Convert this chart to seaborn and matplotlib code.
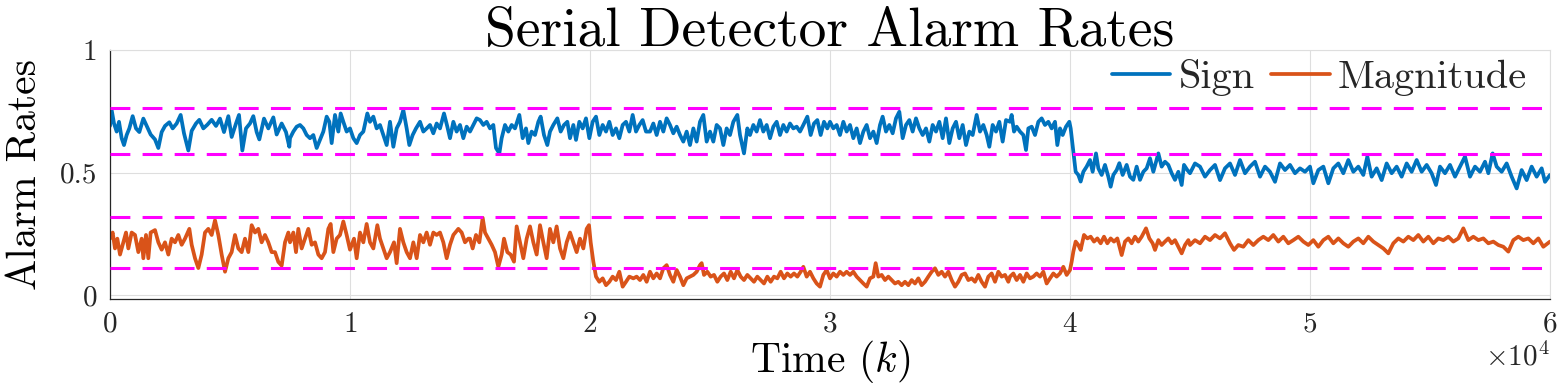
import numpy as np
import pandas as pd
import matplotlib
matplotlib.use("Agg")
import matplotlib.pyplot as plt
from matplotlib.ticker import ScalarFormatter
import seaborn as sns

# ---------------- data ----------------
sign_t = [
    0, 69, 167, 278, 375, 486, 583, 694, 806, 944,
    1083, 1222, 1389, 1528, 1694, 1875, 2014, 2153, 2292, 2472,
    2611, 2778, 2944, 3083, 3264, 3403, 3583, 3722, 3889, 4056,
    4236, 4417, 4583, 4750, 4931, 5069, 5250, 5375, 5514, 5667,
    5833, 5972, 6111, 6222, 6417, 6597, 6806, 6944, 7153, 7333,
    7472,
    7500, 7639, 7778, 7917, 8056, 8194, 8333, 8472, 8611, 8750,
    8889, 9028, 9139, 9236, 9375, 9514, 9611, 9722, 9861, 10000,
    10139, 10278, 10417, 10556, 10722, 10833, 10972, 11111, 11250, 11389,
    11528, 11667, 11806, 11944, 12083, 12222, 12361, 12472, 12611, 12750,
    12917, 13056, 13194, 13333, 13472, 13611, 13750, 13917, 14056, 14167,
    14306, 14444, 14583, 14722, 14861,
    15000, 15139, 15278, 15417, 15556, 15694, 15833, 15972, 16083, 16222,
    16319, 16458, 16597, 16736, 16875, 17056, 17194, 17333, 17431, 17569,
    17708, 17847, 17944, 18083, 18222, 18333, 18472, 18639, 18778, 18917,
    19056, 19167, 19306, 19417, 19556, 19694, 19833, 19972, 20111, 20250,
    20389, 20528, 20667, 20806, 20944, 21083, 21222, 21361, 21500, 21639,
    21778, 21917, 22056, 22194, 22333,
    22500, 22639, 22778, 22917, 23056, 23194, 23333, 23472, 23611, 23750,
    23889, 24028, 24167, 24306, 24444, 24583, 24722, 24861, 25000, 25139,
    25278, 25417, 25556, 25694, 25833, 25972, 26139, 26250, 26417, 26556,
    26667, 26806, 26944, 27083, 27222, 27361, 27500, 27639, 27778, 27917,
    28056, 28194, 28333, 28472, 28611, 28750, 28889, 29056, 29194, 29333,
    29472, 29611, 29750, 29889,
    30000, 30139, 30278, 30417, 30556, 30694, 30833, 30972, 31111, 31250,
    31389, 31528, 31667, 31806, 31944, 32083, 32194, 32333, 32472, 32611,
    32750, 32889, 33028, 33167, 33306, 33444, 33583, 33722, 33861, 34000,
    34139, 34278, 34417, 34556, 34694, 34833, 34972, 35111, 35250, 35389,
    35528, 35667, 35806, 35944, 36111, 36250, 36389, 36528, 36639, 36778,
    36917, 37056, 37194, 37333,
    37500, 37569, 37667, 37778, 37917, 38056, 38167, 38264, 38403, 38542,
    38681, 38819, 38958, 39097, 39236, 39375, 39472, 39583, 39694, 39833,
    39972, 40028, 40139, 40236, 40347, 40444, 40556, 40694, 40833, 40944,
    41083, 41181, 41319, 41458, 41597, 41694, 41806, 41944, 42056, 42194,
    42361, 42500, 42639, 42778, 42917, 43056, 43194, 43333, 43472, 43681,
    43819, 43958, 44097, 44236, 44375, 44514, 44653, 44750, 44889,
    45000, 45208, 45417, 45625, 45833, 46042, 46250, 46458, 46667, 46875,
    47083, 47292, 47500, 47708, 47917, 48125, 48333, 48542, 48750, 48958,
    49167, 49375, 49583, 49792, 50000, 50139, 50347, 50556, 50764, 50972,
    51181, 51389, 51597, 51806, 52014, 52222, 52389, 52569, 52778, 52986,
    53194, 53403, 53611, 53819, 54028, 54236, 54444, 54653, 54861, 55069,
    55250, 55417, 55625, 55833, 56042, 56250, 56458, 56667, 56875, 57083,
    57292, 57431, 57611, 57778, 57986, 58194, 58403, 58611, 58819, 59028,
    59236, 59444, 59653, 59792, 60000,
]
sign_v = [
    0.69, 0.755, 0.70, 0.667, 0.707, 0.64, 0.612, 0.653, 0.68, 0.73,
    0.68, 0.665, 0.72, 0.69, 0.655, 0.635, 0.60, 0.665, 0.69, 0.705,
    0.68, 0.70, 0.735, 0.66, 0.59, 0.67, 0.70, 0.715, 0.68, 0.695,
    0.715, 0.69, 0.72, 0.665, 0.73, 0.645, 0.70, 0.735, 0.59, 0.68,
    0.70, 0.73, 0.665, 0.635, 0.72, 0.68, 0.725, 0.655, 0.70, 0.665,
    0.605,
    0.64, 0.667, 0.687, 0.694, 0.68, 0.653, 0.64, 0.653, 0.60, 0.633,
    0.667, 0.728, 0.707, 0.62, 0.735, 0.667, 0.741, 0.707, 0.667, 0.68,
    0.64, 0.62, 0.653, 0.667, 0.741, 0.707, 0.728, 0.68, 0.694, 0.653,
    0.612, 0.707, 0.605, 0.68, 0.707, 0.755, 0.68, 0.612, 0.653, 0.68,
    0.707, 0.667, 0.68, 0.694, 0.66, 0.70, 0.68, 0.741, 0.687, 0.64,
    0.707, 0.667, 0.694, 0.64, 0.687,
    0.667, 0.694, 0.721, 0.714, 0.694, 0.707, 0.68, 0.694, 0.60, 0.578,
    0.64, 0.694, 0.667, 0.694, 0.68, 0.735, 0.64, 0.68, 0.62, 0.667,
    0.653, 0.707, 0.728, 0.653, 0.612, 0.667, 0.694, 0.721, 0.667, 0.694,
    0.707, 0.64, 0.694, 0.633, 0.707, 0.68, 0.721, 0.64, 0.707, 0.728,
    0.653, 0.694, 0.667, 0.707, 0.653, 0.68, 0.64, 0.694, 0.707, 0.667,
    0.735, 0.667, 0.694, 0.714, 0.667,
    0.667, 0.70, 0.653, 0.707, 0.667, 0.721, 0.694, 0.66, 0.687, 0.653,
    0.626, 0.667, 0.612, 0.68, 0.626, 0.707, 0.735, 0.626, 0.667, 0.626,
    0.694, 0.68, 0.612, 0.68, 0.653, 0.707, 0.735, 0.653, 0.578, 0.68,
    0.653, 0.694, 0.667, 0.714, 0.667, 0.694, 0.64, 0.687, 0.707, 0.653,
    0.694, 0.667, 0.70, 0.68, 0.687, 0.667, 0.694, 0.728, 0.653, 0.70,
    0.714, 0.653, 0.707, 0.68,
    0.707, 0.68, 0.694, 0.653, 0.707, 0.667, 0.694, 0.64, 0.68, 0.62,
    0.667, 0.694, 0.64, 0.667, 0.62, 0.694, 0.728, 0.667, 0.694, 0.66,
    0.721, 0.748, 0.64, 0.694, 0.714, 0.667, 0.721, 0.68, 0.653, 0.68,
    0.626, 0.694, 0.667, 0.707, 0.64, 0.721, 0.62, 0.68, 0.707, 0.64,
    0.694, 0.612, 0.667, 0.653, 0.735, 0.667, 0.694, 0.653, 0.605, 0.694,
    0.667, 0.707, 0.626, 0.714,
    0.707, 0.735, 0.667, 0.687, 0.667, 0.653, 0.592, 0.68, 0.687, 0.653,
    0.707, 0.721, 0.694, 0.707, 0.68, 0.707, 0.612, 0.68, 0.653, 0.687,
    0.707, 0.68, 0.585, 0.503, 0.49, 0.463, 0.503, 0.524, 0.551, 0.503,
    0.578, 0.517, 0.49, 0.531, 0.483, 0.442, 0.49, 0.51, 0.538, 0.49,
    0.531, 0.483, 0.47, 0.524, 0.47, 0.503, 0.517, 0.558, 0.503, 0.578,
    0.524, 0.544, 0.531, 0.497, 0.47, 0.503, 0.449, 0.531, 0.51,
    0.497, 0.537, 0.524, 0.483, 0.51, 0.531, 0.469, 0.517, 0.537, 0.49,
    0.551, 0.497, 0.524, 0.544, 0.483, 0.524, 0.503, 0.462, 0.537, 0.51,
    0.531, 0.497, 0.517, 0.503, 0.524, 0.456, 0.51, 0.524, 0.456, 0.517,
    0.537, 0.497, 0.551, 0.503, 0.524, 0.49, 0.565, 0.483, 0.517, 0.469,
    0.537, 0.497, 0.524, 0.483, 0.537, 0.503, 0.551, 0.503, 0.531, 0.497,
    0.449, 0.524, 0.497, 0.531, 0.483, 0.524, 0.565, 0.483, 0.524, 0.503,
    0.544, 0.497, 0.578, 0.524, 0.503, 0.537, 0.483, 0.435, 0.51, 0.469,
    0.524, 0.483, 0.517, 0.462, 0.49,
]

mag_t = [
    0, 111, 208, 306, 417, 556, 667, 764, 903, 1042,
    1181, 1319, 1389, 1500, 1597, 1694, 1875, 2014, 2153, 2292,
    2431, 2569, 2708, 2847, 2986, 3125, 3306, 3403, 3542, 3681,
    3819, 3958, 4097, 4236, 4375, 4514, 4653, 4792, 4931, 5069,
    5208, 5347, 5486, 5625, 5764, 5903, 6042, 6181, 6319, 6458,
    6597, 6736, 6875, 7014, 7153, 7292, 7431,
    7500, 7639, 7750, 7847, 7986, 8125, 8264, 8403, 8542, 8681,
    8819, 8958, 9097, 9194, 9306, 9444, 9583, 9722, 9861, 10000,
    10167, 10278, 10417, 10556, 10694, 10833, 10972, 11139, 11250, 11389,
    11528, 11667, 11833, 11944, 12083, 12222, 12361, 12500, 12639, 12778,
    12917, 13056, 13194, 13333, 13472, 13611, 13750, 13889, 14028, 14167,
    14306, 14514, 14653, 14792, 14931,
    15000, 15111, 15250, 15389, 15528, 15625, 15764, 15903, 16042, 16181,
    16319, 16417, 16556, 16694, 16833, 16944, 17083, 17222, 17361, 17500,
    17639, 17778, 17917, 18056, 18194, 18333, 18472, 18611, 18750, 18889,
    19028, 19167, 19306, 19444, 19583, 19722, 19861, 19958, 20028, 20139,
    20250, 20389, 20528, 20667, 20806, 20944, 21083, 21222, 21361, 21500,
    21639, 21806, 21944, 22083, 22222, 22361,
    22500, 22639, 22778, 22917, 23056, 23194, 23333, 23472, 23611, 23750,
    23889, 24028, 24167, 24306, 24444, 24583, 24653, 24750, 24889, 25028,
    25167, 25306, 25444, 25583, 25722, 25861, 26000, 26139, 26278, 26417,
    26556, 26694, 26833, 26972, 27111, 27250, 27389, 27528, 27667, 27806,
    27944, 28083, 28222, 28361, 28500, 28639, 28778, 28889, 29028, 29167,
    29306, 29444, 29583, 29722, 29861,
    30000, 30139, 30278, 30417, 30556, 30694, 30833, 30972, 31111, 31250,
    31389, 31528, 31667, 31806, 31903, 32014, 32153, 32292, 32431, 32569,
    32708, 32847, 32986, 33125, 33264, 33403, 33542, 33681, 33819, 33958,
    34097, 34236, 34375, 34514, 34653, 34792, 34931, 35069, 35208, 35347,
    35486, 35625, 35764, 35903, 36042, 36181, 36319, 36458, 36597, 36736,
    36875, 37014, 37153, 37292, 37431,
    37500, 37639, 37778, 37917, 38056, 38194, 38333, 38472, 38611, 38750,
    38889, 39028, 39167, 39306, 39444, 39583, 39722, 39861, 40000, 40069,
    40139, 40236, 40347, 40444, 40583, 40722, 40861, 41000, 41139, 41278,
    41417, 41556, 41694, 41833, 41972, 42153, 42292, 42431, 42569, 42708,
    42847, 42986, 43167, 43306, 43444, 43542, 43681, 43819, 43958, 44097,
    44236, 44375, 44514, 44653, 44792, 44931,
    45000, 45208, 45417, 45625, 45833, 46042, 46250, 46458, 46667, 46833,
    47014, 47222, 47431, 47639, 47847, 48056, 48264, 48472, 48681, 48889,
    49097, 49306, 49514, 49722, 49931, 50139, 50347, 50556, 50764, 50972,
    51181, 51389, 51597, 51806, 52014, 52222, 52431, 52639, 52847, 53056,
    53264, 53472, 53681, 53889, 54097, 54306, 54514, 54722, 54931, 55139,
    55347, 55556, 55764, 55972, 56181, 56389, 56597, 56806, 57014, 57222,
    57431, 57639, 57847, 58056, 58264, 58472, 58681, 58889, 59097, 59306,
    59514, 59722, 60000,
]
mag_v = [
    0.23, 0.255, 0.19, 0.23, 0.165, 0.215, 0.255, 0.19, 0.255, 0.245,
    0.175, 0.23, 0.15, 0.245, 0.15, 0.255, 0.265, 0.215, 0.185, 0.215,
    0.165, 0.23, 0.215, 0.245, 0.205, 0.23, 0.27, 0.205, 0.15, 0.11,
    0.165, 0.255, 0.27, 0.245, 0.305, 0.245, 0.165, 0.095, 0.15, 0.175,
    0.245, 0.19, 0.175, 0.23, 0.175, 0.285, 0.255, 0.27, 0.215, 0.245,
    0.215, 0.175, 0.175, 0.135, 0.12, 0.215, 0.255,
    0.215, 0.255, 0.175, 0.27, 0.19, 0.23, 0.27, 0.205, 0.215, 0.165,
    0.15, 0.175, 0.27, 0.29, 0.175, 0.23, 0.245, 0.30, 0.245, 0.185,
    0.23, 0.15, 0.255, 0.215, 0.29, 0.215, 0.19, 0.285, 0.23, 0.19,
    0.15, 0.175, 0.215, 0.13, 0.27, 0.215, 0.175, 0.15, 0.215, 0.15,
    0.245, 0.215, 0.255, 0.205, 0.255, 0.245, 0.255, 0.215, 0.15, 0.205,
    0.245, 0.27, 0.255, 0.215, 0.23,
    0.23, 0.19, 0.245, 0.215, 0.315, 0.255, 0.23, 0.205, 0.175, 0.115,
    0.165, 0.23, 0.175, 0.165, 0.136, 0.28, 0.215, 0.15, 0.23, 0.28,
    0.215, 0.165, 0.285, 0.215, 0.15, 0.27, 0.215, 0.28, 0.19, 0.15,
    0.215, 0.255, 0.215, 0.175, 0.23, 0.19, 0.27, 0.285, 0.215, 0.136,
    0.075, 0.054, 0.068, 0.04, 0.054, 0.075, 0.061, 0.095, 0.034, 0.054,
    0.075, 0.068, 0.075, 0.061, 0.082, 0.054,
    0.095, 0.068, 0.088, 0.068, 0.109, 0.122, 0.082, 0.054, 0.102, 0.075,
    0.04, 0.068, 0.075, 0.082, 0.095, 0.122, 0.13, 0.082, 0.095, 0.075,
    0.082, 0.054, 0.075, 0.088, 0.061, 0.095, 0.068, 0.102, 0.075, 0.061,
    0.082, 0.068, 0.054, 0.075, 0.061, 0.047, 0.075, 0.054, 0.075, 0.068,
    0.095, 0.068, 0.088, 0.075, 0.088, 0.075, 0.095, 0.115, 0.075, 0.095,
    0.068, 0.047, 0.034, 0.082, 0.102,
    0.068, 0.088, 0.075, 0.095, 0.082, 0.095, 0.082, 0.095, 0.075, 0.061,
    0.047, 0.034, 0.068, 0.075, 0.13, 0.075, 0.082, 0.061, 0.075, 0.061,
    0.047, 0.054, 0.04, 0.054, 0.04, 0.061, 0.047, 0.068, 0.04, 0.054,
    0.075, 0.095, 0.109, 0.082, 0.095, 0.075, 0.095, 0.061, 0.034, 0.054,
    0.082, 0.088, 0.061, 0.068, 0.054, 0.082, 0.054, 0.034, 0.075, 0.088,
    0.054, 0.095, 0.075, 0.082, 0.054,
    0.075, 0.088, 0.061, 0.082, 0.054, 0.088, 0.068, 0.075, 0.088, 0.075,
    0.095, 0.047, 0.068, 0.088, 0.075, 0.088, 0.115, 0.082, 0.102, 0.136,
    0.177, 0.218, 0.204, 0.184, 0.245, 0.231, 0.238, 0.218, 0.231, 0.211,
    0.238, 0.211, 0.231, 0.218, 0.231, 0.163, 0.218, 0.231, 0.211, 0.238,
    0.218, 0.238, 0.272, 0.231, 0.211, 0.184, 0.224, 0.204, 0.218, 0.231,
    0.211, 0.224, 0.197, 0.17, 0.204, 0.224,
    0.204, 0.224, 0.211, 0.238, 0.224, 0.245, 0.231, 0.252, 0.211, 0.184,
    0.204, 0.197, 0.224, 0.204, 0.224, 0.238, 0.224, 0.245, 0.218, 0.238,
    0.211, 0.224, 0.238, 0.218, 0.204, 0.224, 0.197, 0.224, 0.238, 0.211,
    0.231, 0.211, 0.197, 0.218, 0.231, 0.211, 0.238, 0.218, 0.204, 0.19,
    0.17, 0.211, 0.231, 0.218, 0.238, 0.224, 0.245, 0.218, 0.238, 0.211,
    0.231, 0.224, 0.238, 0.218, 0.231, 0.272, 0.224, 0.238, 0.224, 0.231,
    0.211, 0.218, 0.204, 0.197, 0.177, 0.224, 0.238, 0.224, 0.231, 0.211,
    0.231, 0.197, 0.218,
]

bounds = [0.764, 0.574, 0.318, 0.111]          # magenta dashed limits
series_names = ["Sign", "Magnitude"]
xtick_vals = [0, 10000, 20000, 30000, 40000, 50000, 60000]
ytick_vals = [0, 0.5, 1]
ytick_labels = ["0", "0.5", "1"]
title = "Serial Detector Alarm Rates"
xlabel = "Time ($k$)"
ylabel = "Alarm Rates"

n1 = min(len(sign_t), len(sign_v))
n2 = min(len(mag_t), len(mag_v))

# ---------------- style ----------------
sns.set_style("white")
plt.rcParams.update({
    "font.family": ["cmr10", "DejaVu Serif"],
    "mathtext.fontset": "cm",
    "axes.formatter.use_mathtext": True,
    "axes.unicode_minus": False,
})

BLUE = "#0072BD"
ORANGE = "#D95319"
MAGENTA = "#FF00FF"
DARK = "#262626"
GRID = "#DEDEDE"

fig = plt.figure(figsize=(15.68, 3.86), dpi=100)
ax = fig.add_axes([110 / 1568, 87 / 386, 1440 / 1568, 249 / 386])

df_sign = pd.DataFrame({"t": sign_t[:n1], "v": sign_v[:n1]})
df_mag = pd.DataFrame({"t": mag_t[:n2], "v": mag_v[:n2]})

sns.lineplot(data=df_sign, x="t", y="v", ax=ax, color=BLUE, lw=2.7,
             label=series_names[0], estimator=None, sort=False, zorder=2)
sns.lineplot(data=df_mag, x="t", y="v", ax=ax, color=ORANGE, lw=2.7,
             label=series_names[1], estimator=None, sort=False, zorder=2)

for b in bounds:
    ax.axhline(b, color=MAGENTA, lw=2.2, dashes=(6.5, 4), zorder=3)

ax.set_xlim(0, 60000)
ax.set_ylim(-0.0163, 1)
ax.set_yticks(ytick_vals, labels=ytick_labels)
ax.set_xticks(xtick_vals)
fmt = ScalarFormatter(useMathText=True)
fmt.set_powerlimits((0, 0))
ax.xaxis.set_major_formatter(fmt)

ax.tick_params(direction="in", length=10, width=0.8, color=DARK,
               labelcolor=DARK, labelsize=21, pad=9)
ax.xaxis.get_offset_text().set_fontsize(21)
ax.xaxis.get_offset_text().set_color(DARK)

ax.grid(True, color=GRID, lw=0.8)
ax.set_axisbelow(True)
for s in ["left", "bottom"]:
    ax.spines[s].set_color(DARK)
    ax.spines[s].set_linewidth(0.9)
for s in ["top", "right"]:
    ax.spines[s].set_color(GRID)
    ax.spines[s].set_linewidth(0.8)

ax.set_xlabel(xlabel, fontsize=30, color="black")
ax.xaxis.set_label_coords(0.5, -0.155)
ax.set_ylabel(ylabel, fontsize=30, color="black")
ax.yaxis.set_label_coords(-0.0458, 0.5)
ax.set_title(title, fontsize=40, pad=3, color="black")

ax.legend(loc="center right", bbox_to_anchor=(0.984, 0.888), ncol=2,
          frameon=False, fontsize=29, handlelength=1.45, handletextpad=0.2,
          columnspacing=0.42, borderpad=0, borderaxespad=0)

fig.savefig("out.png", dpi=100)
